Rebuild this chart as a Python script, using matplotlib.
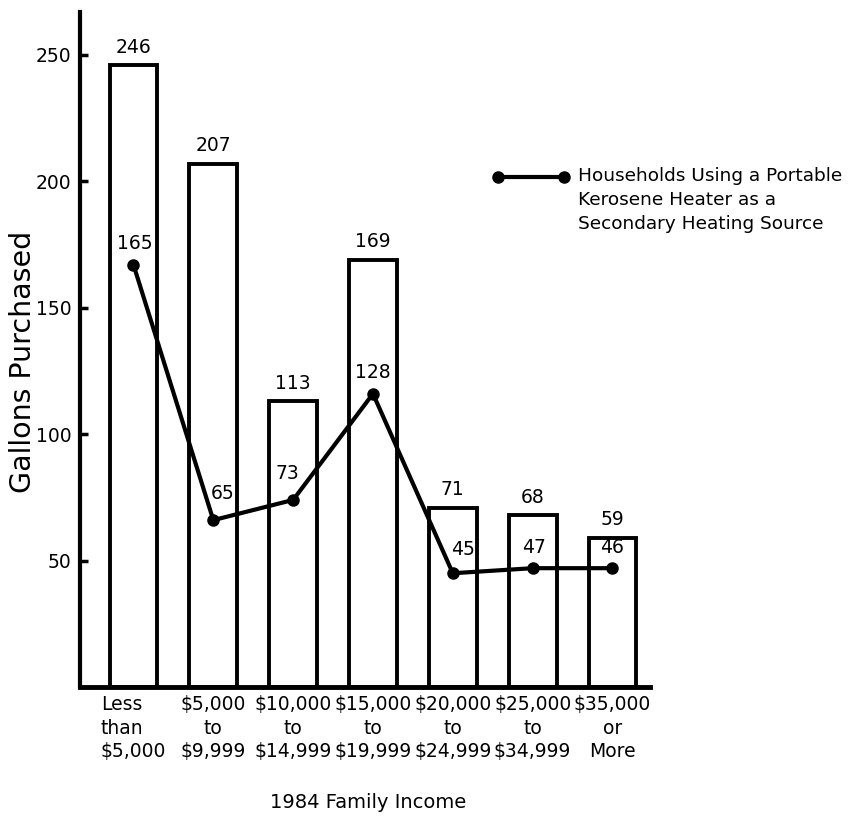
import matplotlib
matplotlib.use("Agg")
import matplotlib.pyplot as plt
from matplotlib.lines import Line2D

# Data
income_labels = [
    "Less\nthan\n$5,000",
    "$5,000\nto\n$9,999",
    "$10,000\nto\n$14,999",
    "$15,000\nto\n$19,999",
    "$20,000\nto\n$24,999",
    "$25,000\nto\n$34,999",
    "$35,000\nor\nMore",
]
all_gallons = [246, 207, 113, 169, 71, 68, 59]
heater_points = [167, 66, 74, 116, 45, 47, 47]
heater_labels = ["165", "65", "73", "128", "45", "47", "46"]
yticks = [50, 100, 150, 200, 250]

# label offsets (points) for the line labels
label_offsets = [(1, 15), (7, 19), (-4, 19), (0, 15), (7, 17), (1, 15), (0, 15)]

W, H = 851, 817
fig = plt.figure(figsize=(W / 100, H / 100), dpi=100)
ax = fig.add_axes([80 / W, 1 - 687 / H, 570 / W, 675 / H])

x = list(range(len(all_gallons)))
ax.bar(x, all_gallons, width=0.6, facecolor="white", edgecolor="black",
       linewidth=2.8, zorder=2)
for xi, v in zip(x, all_gallons):
    ax.annotate(str(v), (xi, v), xytext=(0, 13), textcoords="offset points",
                ha="center", va="center", fontsize=13.5)

ax.plot(x, heater_points, color="black", linewidth=3, marker="o",
        markersize=8, zorder=3)
for xi, v, lab, off in zip(x, heater_points, heater_labels, label_offsets):
    ax.annotate(lab, (xi, v), xytext=off, textcoords="offset points",
                ha="center", va="center", fontsize=13.5, zorder=4)

ax.set_xlim(-0.67, 6.47)
ax.set_ylim(0, 267)
ax.set_yticks(yticks)
ax.set_xticks(x)
ax.set_xticklabels(income_labels, fontsize=13.5, linespacing=1.3)
for t in ax.get_xticklabels():
    t.set_multialignment("left" if t.get_text().startswith("Less") else "center")
ax.tick_params(axis="x", length=0, pad=6)
ax.tick_params(axis="y", direction="in", length=6, width=2.5, labelsize=13.5, pad=6)

for side in ["top", "right"]:
    ax.spines[side].set_visible(False)
ax.spines["left"].set_linewidth(3)
ax.spines["bottom"].set_linewidth(3.5)

fig.text(23 / W, 1 - 362 / H, "Gallons Purchased", rotation=90,
         ha="center", va="center", fontsize=20.5)
fig.text(368 / W, 1 - 803 / H, "1984 Family Income",
         ha="center", va="center", fontsize=14)

# legend drawn by hand
fig.add_artist(Line2D([498 / W, 564 / W], [1 - 177 / H, 1 - 177 / H],
                      transform=fig.transFigure, color="black", linewidth=3,
                      marker="o", markersize=8))
fig.text(578 / W, 1 - 200 / H,
         "Households Using a Portable\nKerosene Heater as a\nSecondary Heating Source",
         ha="left", va="center", fontsize=13.3, linespacing=1.4)

fig.savefig("out.png", dpi=100)
